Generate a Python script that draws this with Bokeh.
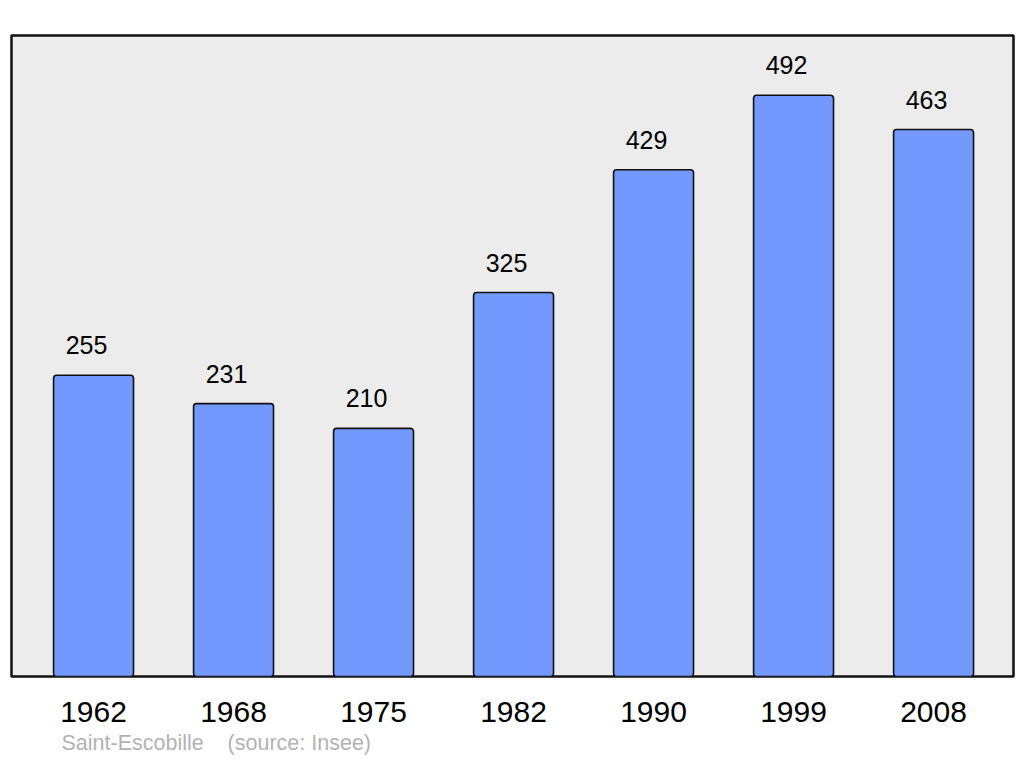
from bokeh.plotting import figure
from bokeh.models import Range1d, FixedTicker, Title, ColumnDataSource
from bokeh.core.properties import value
from bokeh.embed import file_html
from bokeh.resources import INLINE

years = ["1962", "1968", "1975", "1982", "1990", "1999", "2008"]
population = [255, 231, 210, 325, 429, 492, 463]
town = "Saint-Escobille"
source_note = "(source: Insee)"

xs = list(range(len(years)))
src = ColumnDataSource(dict(x=xs, top=population, lbl=[str(v) for v in population]))

p = figure(width=1022, height=762, output_backend="svg", toolbar_location=None,
           x_range=Range1d(-0.586, 6.571), y_range=Range1d(0, 542.6),
           y_axis_location=None, min_border_left=11, min_border_right=9,
           min_border_top=35, min_border_bottom=86)
p.background_fill_color = "#ececec"
p.border_fill_color = "white"
p.outline_line_color = "#111111"
p.outline_line_width = 2.5
p.grid.visible = False

p.vbar(x="x", top="top", width=0.571, bottom=0, source=src,
       fill_color="#7399ff", line_color="#111111", line_width=1.6, border_radius=3)

p.text(x="x", y="top", text="lbl", source=src, x_offset=-7, y_offset=-30,
       text_align="center", text_baseline="alphabetic",
       text_font=value("Liberation Sans"), text_font_size="25px", text_color="black")

ax = p.xaxis[0]
ax.ticker = FixedTicker(ticks=xs)
ax.major_label_overrides = {i: y for i, y in enumerate(years)}
ax.axis_line_color = None
ax.major_tick_line_color = None
ax.minor_tick_line_color = None
ax.major_tick_out = 0
ax.major_tick_in = 0
ax.major_label_standoff = 25
ax.major_label_text_font = "Liberation Sans"
ax.major_label_text_font_size = "30px"
ax.major_label_text_color = "black"

footer = Title(text=town + "\u00a0\u00a0\u00a0\u00a0" + source_note, align="left",
               offset=50, standoff=9, text_font="Liberation Sans",
               text_font_size="21.5px", text_font_style="normal", text_color="#b3b3b3")
p.add_layout(footer, "below")

open("out.html", "w").write(file_html(p, INLINE))
